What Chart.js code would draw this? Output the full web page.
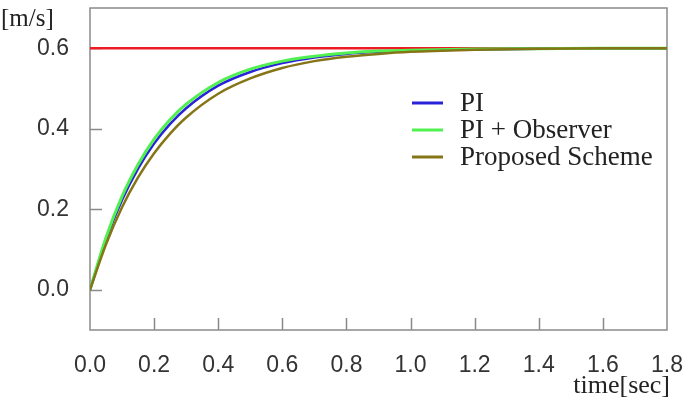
<!DOCTYPE html>
<html lang="en">
<head>
  <meta charset="UTF-8">
  <title>speed response</title>
  <script src="https://cdn.jsdelivr.net/npm/chart.js@4.4.1/dist/chart.umd.min.js"></script>
  <style>
    html, body { margin: 0; padding: 0; background: #fff; }
    #wrap { width: 683px; height: 406px; }
  </style>
</head>
<body>
  <div id="wrap"><canvas id="chart" width="683" height="406"></canvas></div>
  <script>
    // values
    var timeSec   = [0, 0.05, 0.1, 0.15, 0.2, 0.25, 0.3, 0.4, 0.5, 0.6, 0.7, 0.8, 0.9, 1.0, 1.2, 1.4, 1.6, 1.8]
    var piSpeed   = [0, 0.125, 0.223, 0.301, 0.363, 0.412, 0.451, 0.507, 0.541, 0.563, 0.577, 0.586, 0.591, 0.594, 0.597, 0.599, 0.6, 0.6]
    var obsSpeed  = [0, 0.130, 0.232, 0.311, 0.374, 0.423, 0.461, 0.515, 0.548, 0.568, 0.580, 0.588, 0.593, 0.595, 0.598, 0.599, 0.6, 0.6]
    var propSpeed = [0, 0.113, 0.205, 0.279, 0.339, 0.388, 0.428, 0.487, 0.525, 0.551, 0.568, 0.579, 0.586, 0.591, 0.596, 0.599, 0.6, 0.6]
    var refTime   = [0, 1.8]
    var refSpeed  = [0.6, 0.6]
    var yTicks    = [0, 0.2, 0.4, 0.6]

    var seriesNames  = ['PI', 'PI + Observer', 'Proposed Scheme']
    var seriesColors = ['#2a22d8', '#4ff04f', '#857516']

    function pts(xs, ys) {
      return xs.map(function (x, i) { return { x: x, y: ys[i] } })
    }

    var axisGray = '#8a8a8a'

    // box and inward ticks under the lines, legend and captions on top
    var decor = {
      id: 'decor',
      beforeDatasetsDraw: function (chart) {
        var c = chart.ctx, a = chart.chartArea
        var xs = chart.scales.x, ys = chart.scales.y
        c.save()
        c.strokeStyle = axisGray
        c.lineWidth = 1.5
        c.strokeRect(a.left, a.top, a.right - a.left, a.bottom - a.top)
        c.beginPath()
        for (var v = 0.2; v < 1.75; v += 0.2) {
          var px = Math.round(xs.getPixelForValue(v)) + 0.5
          c.moveTo(px, a.bottom)
          c.lineTo(px, a.bottom - 12)
        }
        yTicks.forEach(function (t) {
          var py = Math.round(ys.getPixelForValue(t)) + 0.5
          c.moveTo(a.left, py)
          c.lineTo(a.left + 12, py)
        })
        c.stroke()
        c.restore()
      },
      afterDatasetsDraw: function (chart) {
        var c = chart.ctx
        c.save()
        c.font = '27px "Liberation Serif", "DejaVu Serif", serif'
        c.textBaseline = 'middle'
        c.fillStyle = '#222'
        var rowY = [103, 130, 157]
        seriesNames.forEach(function (name, i) {
          c.strokeStyle = seriesColors[i]
          c.lineWidth = 3
          c.beginPath()
          c.moveTo(412, rowY[i])
          c.lineTo(443, rowY[i])
          c.stroke()
          c.fillText(name, 460, rowY[i] + 1)
        })

        c.font = '25px "Liberation Serif", "DejaVu Serif", serif'
        c.textAlign = 'left'
        c.fillText('[m/s]', 1, 19)
        c.font = '26px "Liberation Serif", "DejaVu Serif", serif'
        c.textAlign = 'right'
        c.fillText('time[sec]', 670, 386)
        c.restore()
      }
    }

    var ctx = document.getElementById('chart').getContext('2d')
    var chart = new Chart(ctx, {
      type: 'line',
      data: {
        datasets: [{
          label: 'Reference',
          data: pts(refTime, refSpeed),
          borderColor: '#ec1c24',
          borderWidth: 2.5,
          order: 3
        }, {
          label: seriesNames[0],
          data: pts(timeSec, piSpeed),
          borderColor: seriesColors[0],
          borderWidth: 2.5,
          order: 2
        }, {
          label: seriesNames[1],
          data: pts(timeSec, obsSpeed),
          borderColor: seriesColors[1],
          borderWidth: 3,
          order: 1
        }, {
          label: seriesNames[2],
          data: pts(timeSec, propSpeed),
          borderColor: seriesColors[2],
          borderWidth: 2.5,
          order: 0
        }]
      },
      options: {
        responsive: false,
        animation: false,
        events: [],
        elements: {
          point: { radius: 0 },
          line: { cubicInterpolationMode: 'monotone', fill: false }
        },
        layout: { padding: { left: 0, right: 16, top: 8, bottom: 0 } },
        plugins: { legend: { display: false }, tooltip: { enabled: false } },
        scales: {
          x: {
            type: 'linear',
            min: 0,
            max: 1.8,
            grid: { display: false },
            border: { display: false },
            ticks: {
              stepSize: 0.2,
              color: '#333',
              padding: 14,
              maxRotation: 0,
              font: { family: '"Liberation Sans", Arial, sans-serif', size: 23 },
              callback: function (v) { return v.toFixed(1) }
            },
            afterFit: function (s) {
              s.height = 76
              s.paddingLeft = 0
              s.paddingRight = 0
            }
          },
          y: {
            min: -0.1,
            max: 0.7,
            grid: { display: false },
            border: { display: false },
            afterBuildTicks: function (s) {
              s.ticks = yTicks.map(function (v) { return { value: v } })
            },
            ticks: {
              color: '#333',
              padding: 13,
              font: { family: '"Liberation Sans", Arial, sans-serif', size: 23 },
              callback: function (v) { return v.toFixed(1) }
            },
            afterFit: function (s) {
              s.width = 90
              s.paddingTop = 0
              s.paddingBottom = 0
            }
          }
        }
      },
      plugins: [decor]
    })
  </script>
</body>
</html>
